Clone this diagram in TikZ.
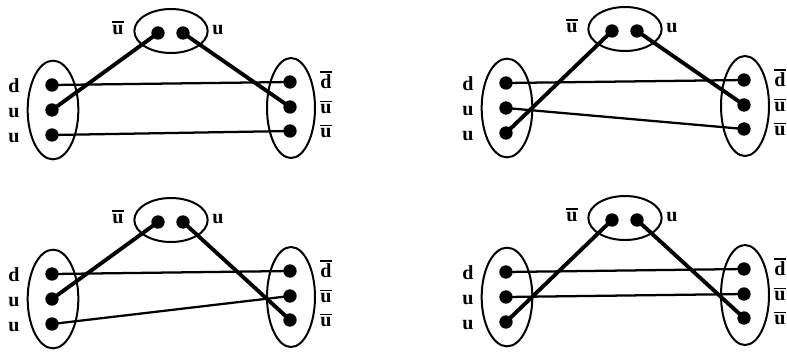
\documentclass[tikz,border=0pt]{standalone}
\usepackage{fontspec}
\setmainfont{Liberation Serif}
\usetikzlibrary{shapes.geometric}
\newcommand\barq[1]{\vbox{\hrule height 1.1pt\kern1.4pt\hbox{\textbf{#1}}}}
\tikzset{
 blob/.style={draw, ellipse, line width=1.5pt, inner sep=0pt},
 dot/.style={circle, fill, inner sep=0pt, minimum size=10pt},
 lbl/.style={anchor=base, inner sep=0pt, font=\fontsize{15pt}{17pt}\selectfont\bfseries},
 thinln/.style={line width=1.7pt},
 thickln/.style={line width=2.9pt},
}
\newcommand\qpanel[3]{%
\begin{scope}[shift={(#2,#3)}]
 \node[blob, minimum width=55pt, minimum height=33pt] (#1T) at (171,31) {};
 \node[blob, minimum width=38pt, minimum height=74pt] (#1L) at (53,110) {};
 \node[blob, minimum width=36pt, minimum height=75pt] (#1R) at (291,108) {};
 \node[dot] (#1t1) at (158,33) {};
 \node[dot] (#1t2) at (183,33) {};
 \node[dot] (#1l1) at (52,85) {};
 \node[dot] (#1l2) at (52,110) {};
 \node[dot] (#1l3) at (52,135) {};
 \node[dot] (#1r1) at (290,82) {};
 \node[dot] (#1r2) at (290,107) {};
 \node[dot] (#1r3) at (290,131) {};
 \node[lbl] (#1tu1) at (118,34) {\barq{u}};
 \node[lbl] (#1tu2) at (218,34) {\textbf{u}};
 \node[lbl] (#1ld) at (14,92) {\textbf{d}};
 \node[lbl] (#1lu1) at (14,117) {\textbf{u}};
 \node[lbl] (#1lu2) at (14,142) {\textbf{u}};
 \node[lbl] (#1rd) at (326,88.5) {\barq{d}};
 \node[lbl] (#1ru1) at (326,113.5) {\barq{u}};
 \node[lbl] (#1ru2) at (326,137.5) {\barq{u}};
\end{scope}}
\begin{document}
\begin{tikzpicture}[x=0.75pt, y=-0.75pt]
\useasboundingbox (0,0) rectangle (787,351);
\qpanel{A}{0}{0}
\qpanel{B}{454}{-2}
\qpanel{C}{0}{189}
\qpanel{D}{454}{187}
% panel A
\draw[thinln] (Al1.center) -- (Ar1.center);
\draw[thickln] (Al2.center) -- (At1.center);
\draw[thinln] (Al3.center) -- (Ar3.center);
\draw[thickln] (At2.center) -- (Ar2.center);
% panel B
\draw[thinln] (Bl1.center) -- (Br1.center);
\draw[thickln] (Bl3.center) -- (Bt1.center);
\draw[thinln] (Bl2.center) -- (Br3.center);
\draw[thickln] (Bt2.center) -- (Br2.center);
% panel C
\draw[thinln] (Cl1.center) -- (Cr1.center);
\draw[thickln] (Cl2.center) -- (Ct1.center);
\draw[thinln] (Cl3.center) -- (Cr2.center);
\draw[thickln] (Ct2.center) -- (Cr3.center);
% panel D
\draw[thinln] (Dl1.center) -- (Dr1.center);
\draw[thinln] (Dl2.center) -- (Dr2.center);
\draw[thickln] (Dl3.center) -- (Dt1.center);
\draw[thickln] (Dt2.center) -- (Dr3.center);
\end{tikzpicture}
\end{document}
